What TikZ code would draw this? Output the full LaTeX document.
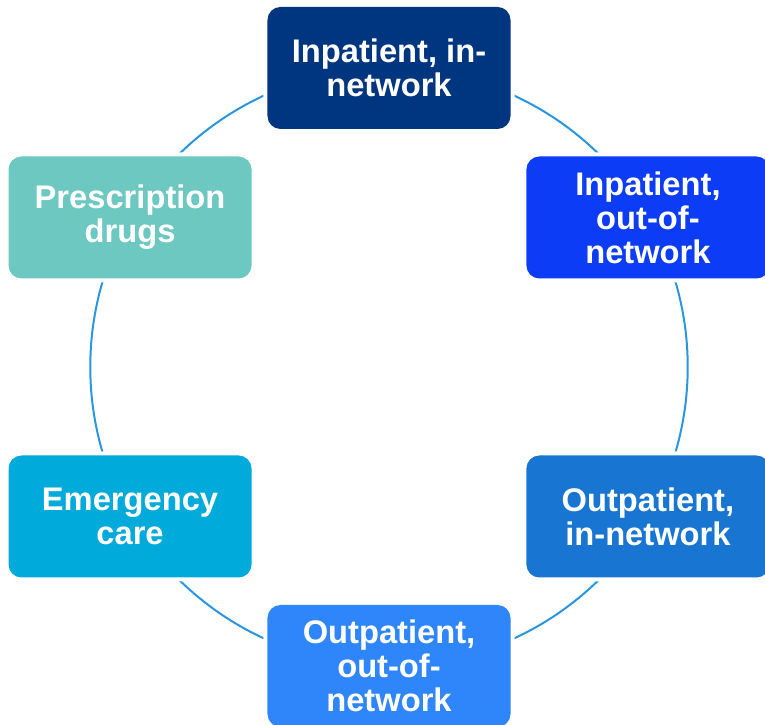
\documentclass[tikz,border=0pt]{standalone}
\usepackage{fontspec}
\setmainfont{Liberation Sans}
\usetikzlibrary{backgrounds}

\definecolor{navy}{RGB}{0,53,128}
\definecolor{royal}{RGB}{12,60,245}
\definecolor{midblue}{RGB}{24,118,210}
\definecolor{skyblue}{RGB}{46,134,250}
\definecolor{cyanblue}{RGB}{0,170,218}
\definecolor{teal}{RGB}{108,200,192}
\definecolor{ringblue}{RGB}{40,150,225}

\begin{document}
\begin{tikzpicture}[
    stage/.style={rounded corners=0.26cm, minimum width=4.86cm, minimum height=2.44cm,
      inner sep=0pt, align=center, text=white,
      font=\bfseries\fontsize{18.6}{19.4}\selectfont,
      preaction={draw=white, line width=0.16cm}},
    ring/.style={draw=ringblue, line width=0.04cm}]
    \useasboundingbox (-7.78,-7.16) rectangle (7.52,7.34);
    %% Boxes around the cycle
    \node[stage, fill=navy] (1) at (90:5.98) {Inpatient, in-\\network};
    \node[stage, fill=royal] (2) at (30:5.98) {Inpatient,\\out-of-\\network};
    \node[stage, fill=midblue] (3) at (-30:5.98) {Outpatient,\\in-network};
    \node[stage, fill=skyblue] (4) at (-90:5.98) {Outpatient,\\out-of-\\network};
    \node[stage, fill=cyanblue] (5) at (-150:5.98) {Emergency\\care};
    \node[stage, fill=teal] (6) at (150:5.98) {Prescription\\drugs};
    %% Ring between boxes
    \begin{scope}[on background layer]
      \foreach \a/\b in {1/2,2/3,3/4,4/5,5/6,6/1}
        \draw[ring] (\a.center) to[bend left=30, looseness=0.91] (\b.center);
    \end{scope}
\end{tikzpicture}
\end{document}
